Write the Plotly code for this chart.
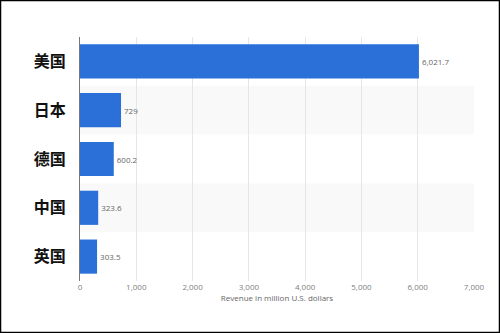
import plotly.graph_objects as go

countries = ["美国", "日本", "德国", "中国", "英国"]
revenue = [6021.7, 729, 600.2, 323.6, 303.5]
value_labels = ["6,021.7", "729", "600.2", "323.6", "303.5"]
x_ticks = [0, 1000, 2000, 3000, 4000, 5000, 6000, 7000]
x_tick_labels = ["0", "1,000", "2,000", "3,000", "4,000", "5,000", "6,000", "7,000"]

W, H = 500, 333
ml, mr, mt, mb = 80, 26, 37, 52
pw, ph = W - ml - mr, H - mt - mb

fig = go.Figure()
fig.add_trace(go.Bar(
    y=countries, x=revenue, orientation="h",
    marker=dict(color="#2a70d8", line=dict(width=0)),
    text=value_labels, textposition="outside",
    textfont=dict(family="Open Sans", size=8, color="#666666"),
    cliponaxis=False,
))

shapes = []
for i in range(len(countries)):
    if i % 2 == 1:
        shapes.append(dict(type="rect", xref="paper", yref="y", x0=0, x1=1,
                           y0=i - 0.5, y1=i + 0.5, fillcolor="#f9f9f9",
                           line=dict(width=0), layer="below"))
shapes.append(dict(type="rect", xref="paper", yref="paper",
                   x0=-ml / pw + 0.5 / pw, x1=1 + (mr - 0.5) / pw,
                   y0=-mb / ph + 0.5 / ph, y1=1 + (mt - 0.5) / ph,
                   line=dict(color="black", width=1.5), fillcolor="rgba(0,0,0,0)"))

fig.update_layout(
    width=W, height=H,
    margin=dict(l=ml, r=mr, t=mt, b=mb),
    paper_bgcolor="white", plot_bgcolor="white",
    bargap=0.3,
    showlegend=False,
    shapes=shapes,
    xaxis=dict(
        range=[0, 7000], tickvals=x_ticks, ticktext=x_tick_labels,
        showgrid=True, gridcolor="#e6e6e6", gridwidth=1,
        zeroline=False, showline=False,
        tickfont=dict(family="Open Sans", size=8, color="#808080"),
        title=dict(text="Revenue in million U.S. dollars",
                   font=dict(family="Open Sans", size=8, color="#666666"),
                   standoff=4),
        ticks="", ticklen=0,
    ),
    yaxis=dict(
        categoryorder="array", categoryarray=countries, autorange="reversed",
        showgrid=False, zeroline=False,
        showline=True, linecolor="#777777", linewidth=1,
        tickfont=dict(family="Noto Sans CJK SC", size=16, color="#111111", weight="bold"),
        ticks="", ticklabelstandoff=10,
    ),
    font=dict(family="Open Sans"),
)

fig.write_html("out.html")
